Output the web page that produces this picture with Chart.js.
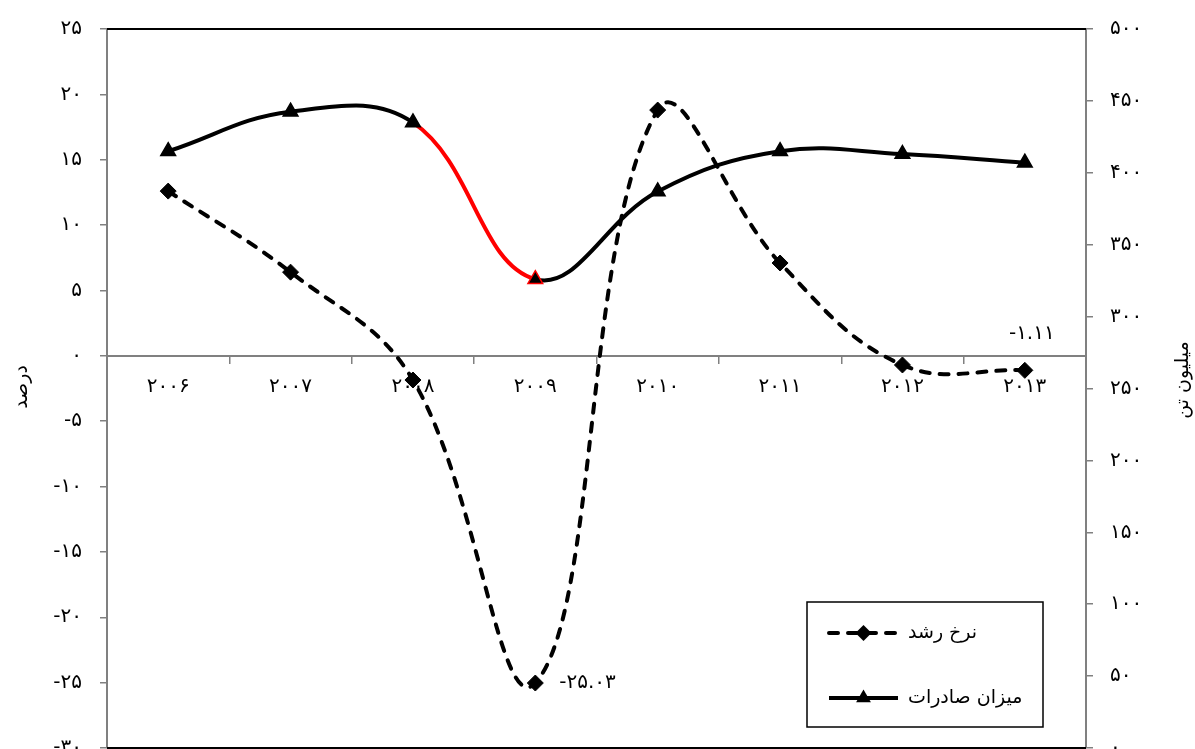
<!DOCTYPE html>
<html lang="fa">
<head>
<meta charset="utf-8">
<title>نرخ رشد و میزان صادرات</title>
<script src="https://cdn.jsdelivr.net/npm/chart.js@4.4.1/dist/chart.umd.min.js"></script>
<style>
  html, body { margin: 0; padding: 0; background: #fff; overflow: hidden; }
  canvas { display: block; }
</style>
</head>
<body>
<canvas id="chart" width="1195" height="749"></canvas>
<script>
// years on the category axis
const years = ['2006', '2007', '2008', '2009', '2010', '2011', '2012', '2013'];
// growth rate, percent (left axis)
const growthRate = [12.6, 6.4, -1.85, -25.03, 18.8, 7.1, -0.7, -1.11];
// export volume, million tonnes (right axis)
const exportVolume = [415, 442.5, 435, 326, 387, 415, 413, 407];
// axis ranges
const leftMin = -30, leftMax = 25, leftStep = 5;
const rightMin = 0, rightMax = 500, rightStep = 50;
// text
const growthLabel = 'نرخ رشد';
const exportLabel = 'میزان صادرات';
const leftTitle = 'درصد';
const rightTitle = 'میلیون تن';
// growth points that carry a value label
const labelledPoints = [3, 7];

const FONT = '"DejaVu Sans", sans-serif';
const GREY = '#808080';
const faDigits = '۰۱۲۳۴۵۶۷۸۹';
function toFa(v) {
  return String(v).replace(/[0-9]/g, d => faDigits[d]);
}

// frame lines, value labels, legend box and rotated axis titles
const extras = {
  id: 'extras',
  beforeDatasetsDraw(chart) {
    const { ctx, chartArea: a } = chart;
    ctx.save();
    ctx.strokeStyle = '#000';
    ctx.lineWidth = 2;
    ctx.beginPath();
    ctx.moveTo(a.left, a.top); ctx.lineTo(a.right, a.top);
    ctx.moveTo(a.left, a.bottom); ctx.lineTo(a.right, a.bottom);
    ctx.stroke();
    ctx.restore();
  },
  afterDraw(chart) {
    const { ctx, chartArea: a } = chart;
    ctx.save();
    ctx.fillStyle = '#000';
    ctx.font = '20px ' + FONT;

    // value labels on the growth series
    const pts = chart.getDatasetMeta(0).data;
    labelledPoints.forEach(i => {
      const p = pts[i];
      const txt = toFa(growthRate[i].toFixed(2));
      ctx.textBaseline = 'middle';
      if (i === 3) {
        ctx.textAlign = 'left';
        ctx.fillText(txt, p.x + 24, p.y);
      } else {
        ctx.textAlign = 'center';
        ctx.fillText(txt, p.x + 7, p.y - 37);
      }
    });

    // legend box
    const bx = a.right - 279, by = a.bottom - 146, bw = 236, bh = 125;
    ctx.fillStyle = '#fff';
    ctx.fillRect(bx, by, bw, bh);
    ctx.strokeStyle = '#000';
    ctx.lineWidth = 1.5;
    ctx.strokeRect(bx, by, bw, bh);

    const rows = [
      { label: growthLabel, dash: [9, 10], marker: 'diamond', y: by + 31 },
      { label: exportLabel, dash: [], marker: 'triangle', y: by + 96 }
    ];
    rows.forEach(r => {
      const x0 = bx + 22, x1 = bx + 91, xm = (x0 + x1) / 2;
      ctx.strokeStyle = '#000';
      ctx.lineWidth = 4;
      ctx.lineCap = r.dash.length ? 'round' : 'butt';
      ctx.setLineDash(r.dash);
      ctx.beginPath();
      ctx.moveTo(x0, r.y); ctx.lineTo(x1, r.y);
      ctx.stroke();
      ctx.setLineDash([]);
      ctx.fillStyle = '#000';
      ctx.beginPath();
      if (r.marker === 'diamond') {
        ctx.moveTo(xm - 8, r.y); ctx.lineTo(xm, r.y - 8);
        ctx.lineTo(xm + 8, r.y); ctx.lineTo(xm, r.y + 8);
      } else {
        ctx.moveTo(xm, r.y - 8.5); ctx.lineTo(xm + 7.4, r.y + 4.2);
        ctx.lineTo(xm - 7.4, r.y + 4.2);
      }
      ctx.closePath();
      ctx.fill();
      ctx.font = '19px ' + FONT;
      ctx.textAlign = 'left';
      ctx.textBaseline = 'middle';
      ctx.fillText(r.label, bx + 101, r.y);
    });

    // axis titles, both turned a quarter left
    ctx.font = '19px ' + FONT;
    ctx.textAlign = 'center';
    ctx.textBaseline = 'middle';
    [[leftTitle, 22, 387], [rightTitle, 1183, 380]].forEach(([t, x, y]) => {
      ctx.save();
      ctx.translate(x, y);
      ctx.rotate(-Math.PI / 2);
      ctx.fillText(t, 0, 0);
      ctx.restore();
    });
    ctx.restore();
  }
};

const axisGrid = {
  drawOnChartArea: false,
  color: GREY,
  lineWidth: 1.5,
  tickLength: 7
};

new Chart(document.getElementById('chart'), {
  type: 'line',
  data: {
    labels: years,
    datasets: [
      {
        label: growthLabel,
        data: growthRate,
        yAxisID: 'y',
        borderColor: '#000',
        borderWidth: 4,
        borderDash: [9, 10],
        borderCapStyle: 'round',
        tension: 0.4,
        pointStyle: 'rectRot',
        pointRadius: 8,
        pointBackgroundColor: '#000',
        pointBorderColor: '#000',
        pointBorderWidth: 1
      },
      {
        label: exportLabel,
        data: exportVolume,
        yAxisID: 'y1',
        borderColor: '#000',
        borderWidth: 4,
        tension: 0.4,
        segment: {
          borderColor: c => c.p0DataIndex === 2 ? '#ff0000' : undefined
        },
        pointStyle: 'triangle',
        pointRadius: 8.5,
        pointBackgroundColor: '#000',
        pointBorderColor: exportVolume.map((v, i) => i === 3 ? '#ff0000' : '#000'),
        pointBorderWidth: 1.5
      }
    ]
  },
  options: {
    responsive: false,
    animation: false,
    layout: { autoPadding: false, padding: { top: 29, bottom: 1, left: 0, right: 0 } },
    plugins: {
      legend: { display: false },
      tooltip: { enabled: false }
    },
    scales: {
      x: {
        type: 'category',
        position: { y: 0 },
        offset: true,
        grid: Object.assign({}, axisGrid, { offset: true }),
        border: { color: GREY, width: 2 },
        ticks: {
          color: '#000',
          font: { family: FONT, size: 20 },
          padding: 12,
          maxRotation: 0,
          callback: function (v) { return toFa(this.getLabelForValue(v)); }
        },
        afterFit(s) { s.paddingLeft = 0; s.paddingRight = 0; }
      },
      y: {
        position: 'left',
        min: leftMin,
        max: leftMax,
        grid: axisGrid,
        border: { color: GREY, width: 2 },
        ticks: {
          stepSize: leftStep,
          color: '#000',
          font: { family: FONT, size: 20 },
          padding: 18,
          callback: v => toFa(v)
        },
        afterFit(s) { s.width = 107; s.paddingTop = 0; s.paddingBottom = 0; }
      },
      y1: {
        position: 'right',
        min: rightMin,
        max: rightMax,
        grid: axisGrid,
        border: { color: GREY, width: 2 },
        ticks: {
          stepSize: rightStep,
          color: '#000',
          font: { family: FONT, size: 20 },
          padding: 17,
          callback: v => toFa(v)
        },
        afterFit(s) { s.width = 109; s.paddingTop = 0; s.paddingBottom = 0; }
      }
    }
  },
  plugins: [extras]
});
</script>
</body>
</html>
